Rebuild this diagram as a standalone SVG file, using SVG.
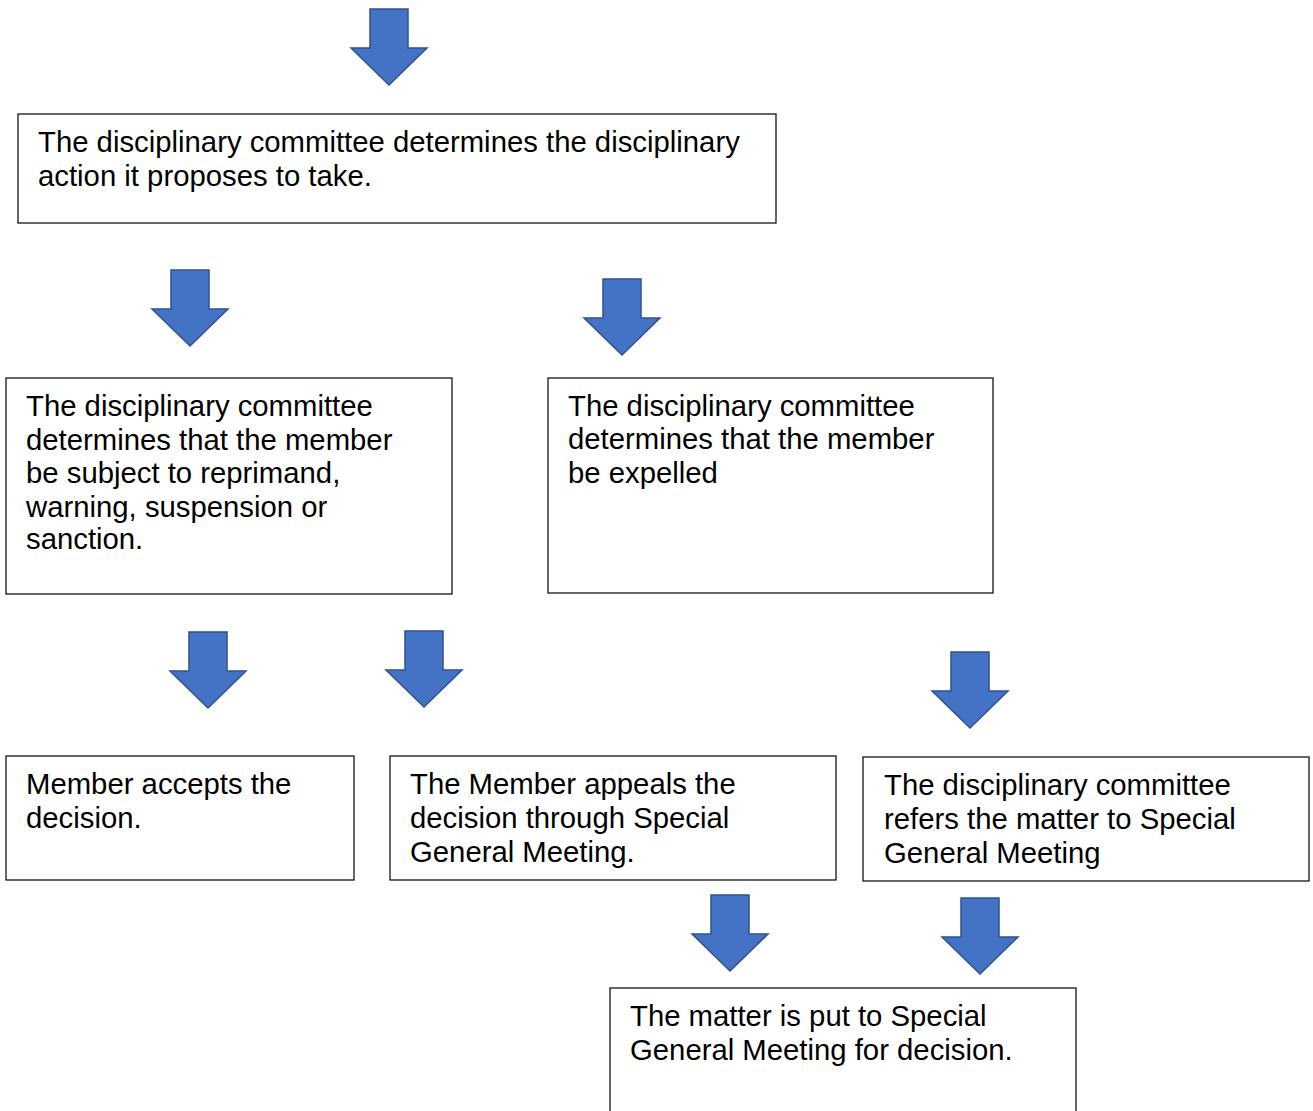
<svg xmlns="http://www.w3.org/2000/svg" width="1313" height="1111" viewBox="0 0 1313 1111">
<style>
.box{fill:#fff;stroke:#000;stroke-width:1.2}
.t{font-family:"Liberation Sans",Arial,sans-serif;font-size:29.3px;fill:#000}
.arr{fill:#4472C4;stroke:#2F528F;stroke-width:1.5}
</style>
<defs>
<path id="da" d="M-19,0 H19 V39 H38 L0,76 L-38,39 H-19 Z"/>
</defs>
<g id="connectors">
<use href="#da" class="arr" x="389" y="9"/>
<use href="#da" class="arr" x="190" y="270"/>
<use href="#da" class="arr" x="622" y="279"/>
<use href="#da" class="arr" x="208" y="632"/>
<use href="#da" class="arr" x="424" y="631"/>
<use href="#da" class="arr" x="970" y="652"/>
<use href="#da" class="arr" x="730" y="895"/>
<use href="#da" class="arr" x="980" y="898"/>
</g>
<g id="nodeA">
<rect class="box" x="18" y="114" width="758" height="109"/>
<text class="t" x="38" y="152">The disciplinary committee determines the disciplinary</text>
<text class="t" x="38" y="186">action it proposes to take.</text>
</g>
<g id="nodeB">
<rect class="box" x="6" y="378" width="446" height="216"/>
<text class="t" x="26" y="416">The disciplinary committee</text>
<text class="t" x="26" y="450">determines that the member</text>
<text class="t" x="26" y="483">be subject to reprimand,</text>
<text class="t" x="26" y="517">warning, suspension or</text>
<text class="t" x="26" y="549">sanction.</text>
</g>
<g id="nodeC">
<rect class="box" x="548" y="378" width="445" height="215"/>
<text class="t" x="568" y="416">The disciplinary committee</text>
<text class="t" x="568" y="449">determines that the member</text>
<text class="t" x="568" y="483">be expelled</text>
</g>
<g id="nodeD">
<rect class="box" x="6" y="756" width="348" height="124"/>
<text class="t" x="26" y="794">Member accepts the</text>
<text class="t" x="26" y="828">decision.</text>
</g>
<g id="nodeE">
<rect class="box" x="390" y="756" width="446" height="124"/>
<text class="t" x="410" y="794">The Member appeals the</text>
<text class="t" x="410" y="828">decision through Special</text>
<text class="t" x="410" y="862">General Meeting.</text>
</g>
<g id="nodeF">
<rect class="box" x="863" y="757" width="446" height="124"/>
<text class="t" x="884" y="795">The disciplinary committee</text>
<text class="t" x="884" y="829">refers the matter to Special</text>
<text class="t" x="884" y="863">General Meeting</text>
</g>
<g id="nodeG">
<rect class="box" x="610" y="988" width="466" height="140"/>
<text class="t" x="630" y="1026">The matter is put to Special</text>
<text class="t" x="630" y="1060">General Meeting for decision.</text>
</g>
</svg>
